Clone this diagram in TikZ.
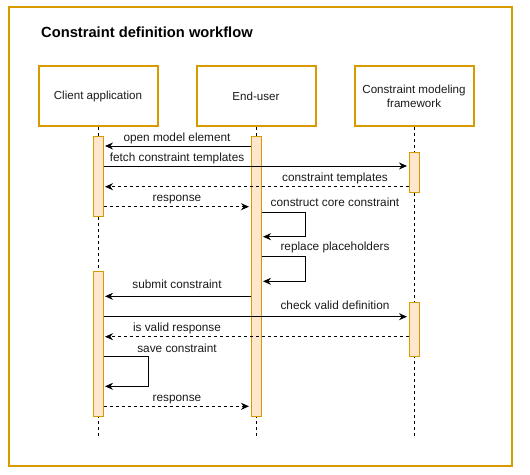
\documentclass[tikz,border=0pt]{standalone}
\usepackage{fontspec}
\setmainfont{Liberation Sans}
\usetikzlibrary{arrows.meta}
\definecolor{boxline}{HTML}{D79B00}
\definecolor{barfill}{HTML}{FFE6CC}
\definecolor{textgray}{HTML}{1A1A1A}

\begin{document}
\begin{tikzpicture}[x = 1pt, y = -1pt,
	actor/.style = {draw = boxline, line width = 2pt, fill = white, minimum width = 119pt, minimum height = 60pt, inner sep = 0pt, align = center, text = textgray, font = \fontsize{11.6}{14}\selectfont},
	bar/.style = {draw = boxline, line width = 1pt, fill = barfill, minimum width = 10pt, inner sep = 0pt},
	msg/.style = {-{Stealth[length = 8pt, width = 7pt]}, line width = 1pt, shorten > = 1.5pt},
	reply/.style = {msg, dash pattern = on 3pt off 3pt},
	life/.style = {dash pattern = on 3pt off 3pt, line width = 1pt},
	lbl/.style = {anchor = base, inner sep = 0pt, text = textgray, font = \fontsize{11.8}{14}\selectfont}]
	\useasboundingbox (0, 0) rectangle (530, 474);
	\draw[boxline, line width = 2pt] (9, 6.5) rectangle (512, 465.5);
	\node[anchor = base west, inner sep = 0pt, font = \fontsize{14.7}{17}\bfseries] (title) at (41, 37) {Constraint definition workflow};
	\node[actor] (cl) at (98,  96) {Client application};
	\node[actor] (eu) at (256, 96) {End-user};
	\node[actor] (fw) at (414, 96) {Constraint modeling\\framework};
	\draw[life] (cl.south) -- (cl.south |- 0,437);
	\draw[life] (eu.south) -- (eu.south |- 0,437);
	\draw[life] (fw.south) -- (fw.south |- 0,437);
	\node[bar, minimum height = 80pt]  (cb1) at (98,  176.5) {};
	\node[bar, minimum height = 145pt] (cb2) at (98,  344.2) {};
	\node[bar, minimum height = 280pt] (ub)  at (256, 276.7) {};
	\node[bar, minimum height = 40pt]  (fb1) at (414, 172.7) {};
	\node[bar, minimum height = 54pt]  (fb2) at (414, 329.5) {};
	\draw[msg]   (ub.west |- 0,146) -- (cb1.east |- 0,146);
	\draw[msg]   (cb1.east |- 0,166) -- (fb1.west |- 0,166);
	\draw[reply] (fb1.west |- 0,186.7) -- (cb1.east |- 0,186.7);
	\draw[reply] (cb1.east |- 0,206.7) -- (ub.west |- 0,206.7);
	\draw[msg]   (ub.east |- 0,212) -- (305, 212) -- (305, 236.7) -- (ub.east |- 0,236.7);
	\draw[msg]   (ub.east |- 0,256) -- (305, 256) -- (305, 281.3) -- (ub.east |- 0,281.3);
	\draw[msg]   (ub.west |- 0,296.3) -- (cb2.east |- 0,296.3);
	\draw[msg]   (cb2.east |- 0,316.7) -- (fb2.west |- 0,316.7);
	\draw[reply] (fb2.west |- 0,336.7) -- (cb2.east |- 0,336.7);
	\draw[msg]   (cb2.east |- 0,356.3) -- (148.3, 356.3) -- (148.3, 386.3) -- (cb2.east |- 0,386.3);
	\draw[reply] (cb2.east |- 0,406.3) -- (ub.west |- 0,406.3);
	\node[lbl] (l1)  at (177, 141)   {open model element};
	\node[lbl] (l2)  at (177, 161.5) {fetch constraint templates};
	\node[lbl] (l3)  at (335, 181)   {constraint templates};
	\node[lbl] (l4)  at (177, 201.5) {response};
	\node[lbl] (l5)  at (335, 206)   {construct core constraint};
	\node[lbl] (l6)  at (335, 250)   {replace placeholders};
	\node[lbl] (l7)  at (177, 288.5) {submit constraint};
	\node[lbl] (l8)  at (335, 309)   {check valid definition};
	\node[lbl] (l9)  at (177, 331.5) {is valid response};
	\node[lbl] (l10) at (177, 352)   {save constraint};
	\node[lbl] (l11) at (177, 401.5) {response};
\end{tikzpicture}
\end{document}
